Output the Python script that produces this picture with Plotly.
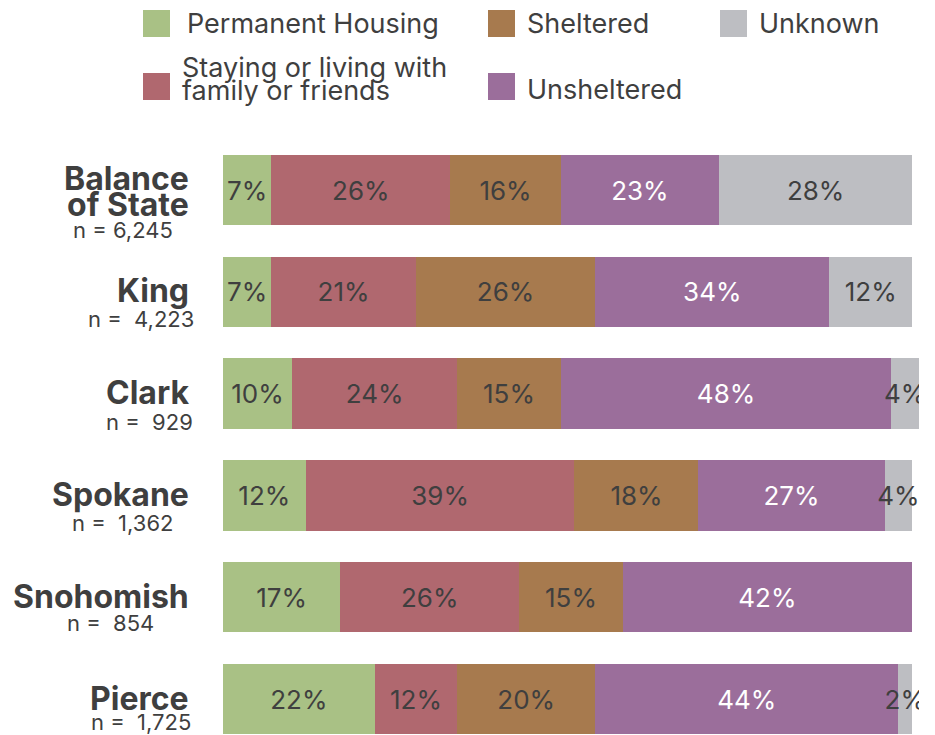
import plotly.graph_objects as go

# ---- data ----
regions = [["Balance", "of State"], ["King"], ["Clark"], ["Spokane"], ["Snohomish"], ["Pierce"]]
sample_sizes = ["6,245", "\u00a04,223", "\u00a0929", "\u00a01,362", "\u00a0854", "\u00a01,725"]
series_names = [
    "Permanent Housing",
    "Staying or living with family or friends",
    "Sheltered",
    "Unsheltered",
    "Unknown",
]
permanent = [7, 7, 10, 12, 17, 22]
family = [26, 21, 24, 39, 26, 12]
sheltered = [16, 26, 15, 18, 15, 20]
unsheltered = [23, 34, 48, 27, 42, 44]
unknown = [28, 12, 4, 4, None, 2]

# ---- style ----
colors = ["#a9c185", "#b0686f", "#a77a4e", "#9b6e9b", "#bdbec2"]
text_colors = ["#3f3f3f", "#3f3f3f", "#3f3f3f", "#ffffff", "#3f3f3f"]
FONT = "Inter"
DARK = "#3f3f3f"

W, H = 935, 735
L, R, T, B = 223, 16, 130, 0
PW, PH = W - L - R, H - T - B


def px_x(px):
    return (px - L) / PW


def px_y(py):
    return (H - B - py) / PH


fig = go.Figure()
ypos = list(range(len(regions)))
for name, vals, col, tcol in zip(series_names, [permanent, family, sheltered, unsheltered, unknown],
                                 colors, text_colors):
    fig.add_trace(go.Bar(
        y=ypos, x=vals, orientation="h", name=name,
        marker=dict(color=col, line=dict(width=0)),
        text=[f"{v}%" if v is not None else "" for v in vals],
        textposition="inside", insidetextanchor="middle", constraintext="none",
        textangle=0,
        textfont=dict(family=FONT, size=26, color=tcol),
        width=0.69, showlegend=False, hoverinfo="skip",
    ))

# region names and sample sizes beside each bar
n_right_edge = [175, 196, 195, 175, 156, 193]
name_shift = [[12, -14], [1], [1], [1], [1], [1]]
n_shift = [-40, -27, -28, -28, -26, -23]
annotations = []
for i, (reg, n) in enumerate(zip(regions, sample_sizes)):
    for line, ys in zip(reg, name_shift[i]):
        annotations.append(dict(
            x=px_x(191), xref="paper", y=i, yref="y", xanchor="right", yanchor="middle",
            text=f"<b>{line}</b>", showarrow=False, yshift=ys,
            font=dict(family=FONT, size=32, color=DARK),
        ))
    annotations.append(dict(
        x=px_x(n_right_edge[i]), xref="paper", y=i, yref="y", xanchor="right", yanchor="middle",
        text=f"n = {n}", showarrow=False, yshift=n_shift[i],
        font=dict(family=FONT, size=22, color=DARK),
    ))

# legend drawn as swatches + labels
legend_items = [
    (0, 143, 10, 185, [("Permanent Housing", 24)]),
    (2, 488, 10, 525, [("Sheltered", 24)]),
    (4, 720, 10, 757, [("Unknown", 24)]),
    (1, 143, 73, 180, [("Staying or living with", 67), ("family or friends", 90)]),
    (3, 488, 73, 525, [("Unsheltered", 89)]),
]
shapes = []
for idx, sx, sy, tx, lines in legend_items:
    shapes.append(dict(
        type="rect", xref="paper", yref="paper",
        x0=px_x(sx), x1=px_x(sx + 27), y0=px_y(sy + 27), y1=px_y(sy),
        fillcolor=colors[idx], line=dict(width=0),
    ))
    for txt, cy in lines:
        annotations.append(dict(
            x=px_x(tx), xref="paper", y=px_y(cy), yref="paper",
            xanchor="left", yanchor="middle", text=txt, showarrow=False,
            font=dict(family=FONT, size=27, color=DARK),
        ))

fig.update_layout(
    barmode="stack",
    width=W, height=H,
    margin=dict(l=L, r=R, t=T, b=B, pad=0),
    paper_bgcolor="white", plot_bgcolor="white",
    xaxis=dict(range=[0, 101], visible=False, fixedrange=True),
    yaxis=dict(range=[5 + 36 / 101.8, -60 / 101.8], visible=False, fixedrange=True),
    annotations=annotations, shapes=shapes,
    showlegend=False,
)

fig.write_html("out.html", config={"displayModeBar": False})
